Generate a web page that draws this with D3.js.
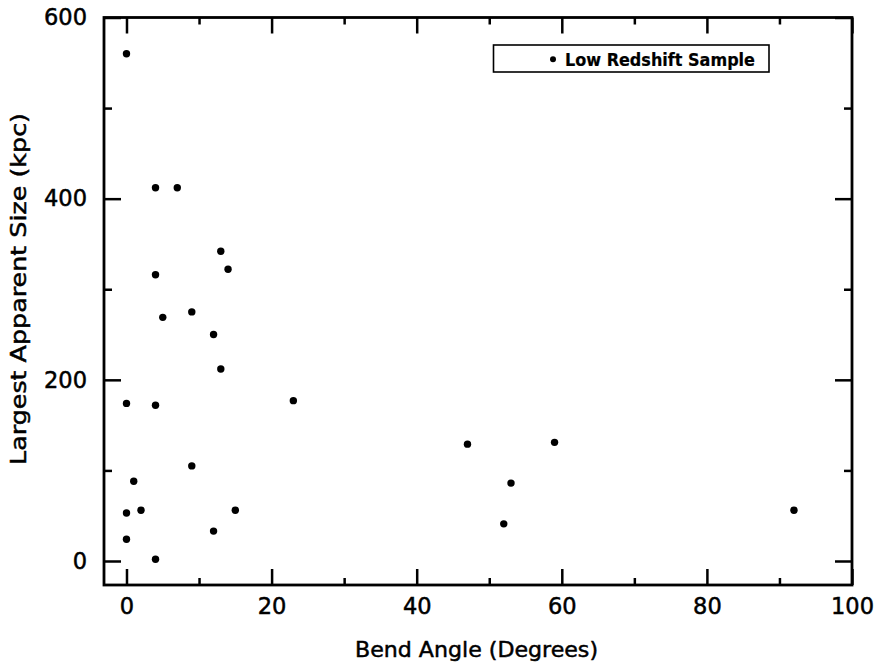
<!DOCTYPE html>
<html>
<head>
<meta charset="utf-8">
<script src="https://cdn.jsdelivr.net/npm/d3@7"></script>
<style>
  html, body { margin: 0; padding: 0; background: #fff; }
  svg { display: block; }
  text { font-family: "DejaVu Sans", sans-serif; fill: #000; stroke: #000; stroke-width: 0.5px; }
</style>
</head>
<body>
<svg id="chart" width="878" height="669"></svg>
<script>
// Bend angle (degrees) and largest apparent size (kpc) for the low-redshift sample
const bendAngle = [0, 4, 7, 13, 14, 4, 5, 9, 12, 13, 0, 4, 23, 9, 1, 0, 2, 15, 0, 12, 4, 47, 59, 53, 52, 92];
const apparentSize = [560, 412, 412, 342, 322, 316, 269, 275, 250, 212, 174, 172, 177, 105, 88, 53, 56, 56, 24, 33, 2, 129, 131, 86, 41, 56];

const xMajorTicks = [0, 20, 40, 60, 80, 100];
const xMinorTicks = [10, 30, 50, 70, 90];
const yMajorTicks = [0, 200, 400, 600];
const yMinorTicks = [100, 300, 500];

const seriesName = "Low Redshift Sample";
const xTitle = "Bend Angle (Degrees)";
const yTitle = "Largest Apparent Size (kpc)";

const svg = d3.select("#chart");
const frame = { left: 104, right: 852, top: 17.5, bottom: 585 };

const x = d3.scaleLinear().domain([-3.1, 100]).range([frame.left, frame.right]);
const y = d3.scaleLinear().domain([-26.5, 600]).range([frame.bottom, frame.top]);

const tickStroke = 2.5;

function styleAxis(g) {
  g.select(".domain").remove();
  g.selectAll(".tick line").attr("stroke", "#000").attr("stroke-width", tickStroke);
  g.selectAll(".tick text").attr("font-size", 22.5);
}

// Bottom axis: labelled major ticks and minor ticks, all pointing inward
svg.append("g")
  .attr("transform", `translate(0,${frame.bottom})`)
  .call(d3.axisBottom(x).tickValues(xMajorTicks).tickFormat(d3.format("d"))
    .tickSizeInner(-16).tickSizeOuter(0).tickPadding(13.5))
  .call(styleAxis);
svg.append("g")
  .attr("transform", `translate(0,${frame.bottom})`)
  .call(d3.axisBottom(x).tickValues(xMinorTicks).tickFormat("")
    .tickSizeInner(-7).tickSizeOuter(0))
  .call(styleAxis);

// Top axis: ticks only
svg.append("g")
  .attr("transform", `translate(0,${frame.top})`)
  .call(d3.axisTop(x).tickValues(xMajorTicks).tickFormat("")
    .tickSizeInner(-16).tickSizeOuter(0))
  .call(styleAxis);
svg.append("g")
  .attr("transform", `translate(0,${frame.top})`)
  .call(d3.axisTop(x).tickValues(xMinorTicks).tickFormat("")
    .tickSizeInner(-7).tickSizeOuter(0))
  .call(styleAxis);

// Left axis: labelled major ticks and minor ticks
svg.append("g")
  .attr("transform", `translate(${frame.left},0)`)
  .call(d3.axisLeft(y).tickValues(yMajorTicks).tickFormat(d3.format("d"))
    .tickSizeInner(-17).tickSizeOuter(0).tickPadding(17))
  .call(styleAxis);
svg.append("g")
  .attr("transform", `translate(${frame.left},0)`)
  .call(d3.axisLeft(y).tickValues(yMinorTicks).tickFormat("")
    .tickSizeInner(-8).tickSizeOuter(0))
  .call(styleAxis);

// Right axis: ticks only
svg.append("g")
  .attr("transform", `translate(${frame.right},0)`)
  .call(d3.axisRight(y).tickValues(yMajorTicks).tickFormat("")
    .tickSizeInner(-17).tickSizeOuter(0))
  .call(styleAxis);
svg.append("g")
  .attr("transform", `translate(${frame.right},0)`)
  .call(d3.axisRight(y).tickValues(yMinorTicks).tickFormat("")
    .tickSizeInner(-8).tickSizeOuter(0))
  .call(styleAxis);

// Plot frame
svg.append("rect")
  .attr("x", frame.left).attr("y", frame.top)
  .attr("width", frame.right - frame.left)
  .attr("height", frame.bottom - frame.top)
  .attr("fill", "none").attr("stroke", "#000").attr("stroke-width", 2.8);

// Data points
svg.append("g")
  .selectAll("circle")
  .data(d3.zip(bendAngle, apparentSize))
  .join("circle")
  .attr("cx", d => x(d[0]))
  .attr("cy", d => y(d[1]))
  .attr("r", 3.7)
  .attr("fill", "#000");

// Legend
const legend = svg.append("g");
legend.append("rect")
  .attr("x", 493.5).attr("y", 45).attr("width", 275.5).attr("height", 27)
  .attr("fill", "#fff").attr("stroke", "#000").attr("stroke-width", 1.6);
legend.append("circle")
  .attr("cx", 553).attr("cy", 59.3).attr("r", 3).attr("fill", "#000");
legend.append("text")
  .attr("x", 565).attr("y", 65.5)
  .attr("font-size", 17)
  .attr("font-weight", "bold")
  .style("stroke-width", "0.2px")
  .attr("textLength", 190).attr("lengthAdjust", "spacingAndGlyphs")
  .text(seriesName);

// Axis titles
svg.append("text")
  .attr("x", 476.5).attr("y", 657)
  .attr("text-anchor", "middle")
  .attr("font-size", 22)
  .attr("textLength", 243).attr("lengthAdjust", "spacingAndGlyphs")
  .text(xTitle);

svg.append("text")
  .attr("transform", "translate(26,289) rotate(-90)")
  .attr("text-anchor", "middle")
  .attr("font-size", 22)
  .attr("textLength", 352).attr("lengthAdjust", "spacingAndGlyphs")
  .text(yTitle);
</script>
</body>
</html>
